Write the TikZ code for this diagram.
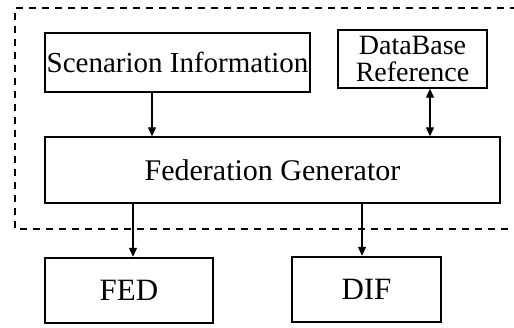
\documentclass[tikz,border=0pt]{standalone}
\usepackage{fontspec}
\setmainfont{Liberation Serif}
\usetikzlibrary{arrows.meta}
\usetikzlibrary{backgrounds,calc,positioning}

\begin{document}
\begin{tikzpicture}[x=1pt,y=-1pt,
    box/.style={draw,line width=1.4pt,inner sep=0pt,align=center,
      font=\rmfamily\fontsize{29}{22}\selectfont},
    outbox/.style={box,line width=2.4pt},
    arr/.style={-{Triangle[length=9pt,width=8pt]},line width=1.2pt},
    dbl/.style={{Triangle[length=9pt,width=8pt]}-{Triangle[length=9pt,width=8pt]},line width=1.2pt}]
        \useasboundingbox (0,0) rectangle (514,328);

        \draw[line width=1.3pt,dash pattern=on 7pt off 6pt] (530,8) -- (15,8) -- (15,229) -- (530,229);

        \node[box,minimum width=265pt,minimum height=59pt] (scen) at (177.5,62.5) {Scenarion Information};
        \node[box,minimum width=149pt,minimum height=58pt,font=\rmfamily\fontsize{28}{27}\selectfont] (db) at (412.5,59) {DataBase\\Reference};
        \node[box,minimum width=455pt,minimum height=66pt,font=\rmfamily\fontsize{30}{22}\selectfont] (gen) at (272.5,170) {Federation Generator};
        \node[outbox,minimum width=168pt,minimum height=65pt,font=\rmfamily\fontsize{31}{22}\selectfont] (fed) at (129,290.5) {FED};
        \node[outbox,minimum width=149pt,minimum height=65pt,font=\rmfamily\fontsize{31}{22}\selectfont] (dif) at (366.5,289.5) {DIF};

        \draw[arr] ([xshift=-25.5pt]scen.south) -- ([xshift=-25.5pt]scen.south |- gen.north);
        \draw[dbl] ([xshift=17.5pt]db.south) -- ([xshift=17.5pt]db.south |- gen.north);

        \draw[arr] ([xshift=4pt]fed.north |- gen.south) -- ([xshift=4pt]fed.north);
        \draw[arr] ([xshift=-4.5pt]dif.north |- gen.south) -- ([xshift=-4.5pt]dif.north);
      \end{tikzpicture}
\end{document}
